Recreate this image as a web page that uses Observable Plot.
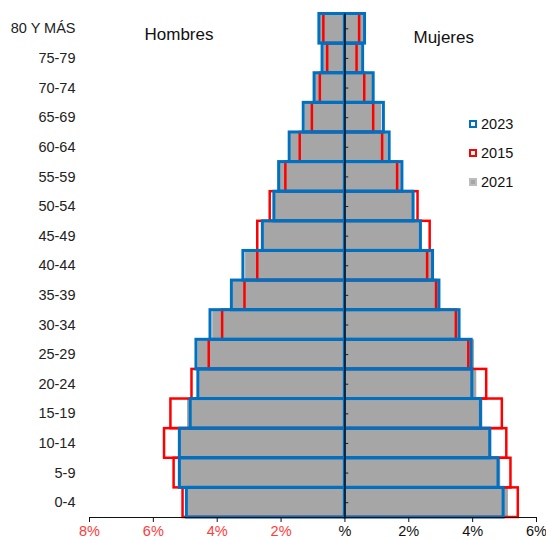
<!DOCTYPE html>
<html><head><meta charset="utf-8">
<script src="https://cdn.jsdelivr.net/npm/d3@7"></script>
<script src="https://cdn.jsdelivr.net/npm/@observablehq/plot@0.6"></script>
<style>
body{margin:0;background:#fff;font-family:"Liberation Sans",Arial,sans-serif;}
#wrap{position:relative;width:546px;height:540px;}
#wrap svg{display:block;}
#legend{position:absolute;left:469px;top:110px;font-size:14.5px;color:#111;}
.item{display:flex;align-items:center;height:28.7px;}
.sw{width:4px;height:4px;margin-right:4px;}
</style></head><body><div id="wrap"><div id="legend"></div></div>
<script>
const categories = ["80 Y MÁS","75-79","70-74","65-69","60-64","55-59","50-54","45-49","40-44","35-39","30-34","25-29","20-24","15-19","10-14","5-9","0-4"];
const men2023   = [0.80,0.70,0.95,1.29,1.73,2.06,2.21,2.57,3.18,3.54,4.21,4.65,4.59,4.83,5.17,5.17,4.95];
const men2015   = [0.66,0.54,0.77,1.02,1.40,1.85,2.34,2.73,2.73,3.13,3.83,4.25,4.79,5.45,5.65,5.35,5.07];
const men2021   = [0.78,0.66,0.92,1.24,1.69,2.02,2.19,2.54,3.11,3.49,4.14,4.60,4.55,4.93,5.15,5.15,4.92];
const women2023 = [0.63,0.57,0.90,1.22,1.40,1.80,2.15,2.38,2.76,2.96,3.59,3.97,3.99,4.26,4.55,4.81,4.97];
const women2015 = [0.46,0.38,0.62,0.90,1.18,1.65,2.29,2.67,2.59,2.87,3.49,3.88,4.44,4.93,5.07,5.20,5.43];
const women2021 = [0.59,0.53,0.86,1.15,1.35,1.76,2.12,2.34,2.80,2.93,3.55,4.06,4.13,4.32,4.60,4.88,5.12];
const xTicks = [-8,-6,-4,-2,0,2,4,6];
const xTickLabels = ["8%","6%","4%","2%","%","2%","4%","6%"];
const legendYears = ["2023","2015","2021"];
const sideTitles = ["Hombres","Mujeres"];

function rows(men, women){
  const out = [];
  categories.forEach((c,i)=>{
    out.push({age:c, v:-men[i]});
    out.push({age:c, v:women[i]});
  });
  return out;
}
const gray = rows(men2021, women2021);
const red = rows(men2015, women2015);
const blue = rows(men2023, women2023);
const tickData = xTicks.map((v,i)=>({v, label:xTickLabels[i]}));

const BLUE="#0070c0", RED="#ff0000", GRAY="#a6a6a6", AX="#0b2239";

const chart = Plot.plot({
  width: 546, height: 540,
  marginLeft: 89, marginRight: 10, marginTop: 13.5, marginBottom: 23,
  x: {domain: [-8, 6], label: null},
  y: {domain: categories, padding: 0, round: false, label: null},
  style: {fontFamily: "Liberation Sans, Arial, sans-serif", fontSize: "14px", color: "#222", background: "#fff"},
  marks: [
    Plot.barX(gray, {x1: 0, x2: "v", y: "age", fill: GRAY, inset: 0}),
    Plot.barX(red, {x1: 0, x2: "v", y: "age", fill: "none", stroke: RED, strokeWidth: 2.5, inset: 0}),
    Plot.barX(blue, {x1: 0, x2: "v", y: "age", fill: "none", stroke: BLUE, strokeWidth: 3, inset: 0}),
    Plot.ruleX([0], {stroke: AX, strokeWidth: 1.8}),
    Plot.ruleY(categories, {y: d=>d, x1: 0, x2: 0.12, stroke: AX}),
    Plot.frame({anchor: "bottom", stroke: "#111"}),
    Plot.axisX({ticks: xTicks, tickSize: 5, tickFormat: () => "", stroke: "#111", label: null}),
    Plot.text(tickData.filter(d=>d.v<0), {x: "v", text: "label", frameAnchor: "bottom", lineAnchor: "top", dy: 8, fill: "#ff3b3b", fontSize: 14.5}),
    Plot.text(tickData.filter(d=>d.v>=0), {x: "v", text: "label", frameAnchor: "bottom", lineAnchor: "top", dy: 8, fill: "#111", fontSize: 14.5}),
    Plot.axisY({tickSize: 0, tickPadding: 14, fontSize: 14.5, fill: "#222", label: null}),
    Plot.text([sideTitles[0]], {text: d=>d, frameAnchor: "top-left", textAnchor: "start", lineAnchor: "middle", dx: 55, dy: 21, fontSize: 17, fill: "#111"}),
    Plot.text([sideTitles[1]], {text: d=>d, frameAnchor: "top-left", textAnchor: "start", lineAnchor: "middle", dx: 324, dy: 24, fontSize: 17, fill: "#111"})
  ]
});
document.getElementById("wrap").prepend(chart);

const legend = document.getElementById("legend");
const swStyles = [
  `border:2px solid ${BLUE};background:#fff;`,
  `border:2px solid ${RED};background:#fff;`,
  `border:2px solid #bdbdbd;background:${GRAY};`
];
legendYears.forEach((y,i)=>{
  const it = document.createElement("div");
  it.className = "item";
  it.innerHTML = `<span class="sw" style="${swStyles[i]}"></span><span>${y}</span>`;
  legend.appendChild(it);
});
</script></body></html>
